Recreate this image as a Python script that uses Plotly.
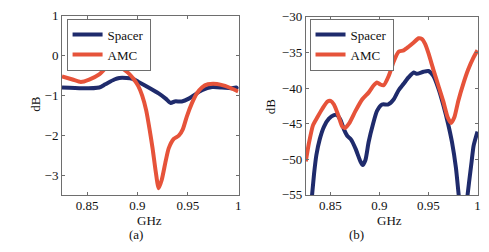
import plotly.graph_objects as go

# ---- data (a) ----
fa_spacer = [0.825, 0.845, 0.862, 0.868, 0.877, 0.882, 0.889, 0.895, 0.901, 0.911, 0.921, 0.928, 0.933,
             0.937, 0.944, 0.951, 0.957, 0.964, 0.974, 0.984, 0.993, 0.998, 1.0]
va_spacer = [-0.80, -0.82, -0.80, -0.72, -0.60, -0.56, -0.56, -0.58, -0.66, -0.80, -0.95, -1.08, -1.19,
             -1.15, -1.15, -1.08, -0.98, -0.87, -0.79, -0.80, -0.82, -0.80, -0.84]
fa_amc = [0.825, 0.8355, 0.8437, 0.852, 0.862, 0.868, 0.873, 0.880, 0.885, 0.891, 0.896, 0.9007, 0.9046,
          0.9086, 0.912, 0.915, 0.918, 0.921, 0.924, 0.928, 0.931, 0.936, 0.941, 0.945, 0.949, 0.954,
          0.959, 0.964, 0.970, 0.979, 0.987, 0.993, 1.0]
va_amc = [-0.52, -0.60, -0.66, -0.60, -0.47, -0.32, -0.22, -0.22, -0.32, -0.44, -0.58, -0.76, -1.0,
          -1.37, -1.85, -2.33, -2.89, -3.33, -3.13, -2.65, -2.33, -2.09, -2.01, -1.85, -1.53, -1.2,
          -0.95, -0.80, -0.72, -0.71, -0.76, -0.82, -0.90]

# ---- data (b) ----
fb_spacer = [0.828, 0.8334, 0.8358, 0.8392, 0.8436, 0.8486, 0.8537, 0.857, 0.8605, 0.8639, 0.8672, 0.871,
             0.8757, 0.8807, 0.883, 0.8858, 0.889, 0.8936, 0.8976, 0.9027, 0.909, 0.9145, 0.9196, 0.9247,
             0.9297, 0.935, 0.938, 0.945, 0.950, 0.955, 0.960, 0.965, 0.970, 0.974, 0.978, 0.982, 0.986,
             0.989, 0.994, 0.996, 1.0]
vb_spacer = [-60.0, -52.1, -49.4, -47.2, -45.4, -44.3, -43.8, -43.8, -44.5, -45.8, -46.7, -47.2,
             -48.5, -50.3, -50.8, -50.1, -47.6, -45.0, -43.2, -42.3, -42.3, -41.6, -40.3, -39.4,
             -38.5, -37.8, -38.0, -37.7, -37.6, -38.3, -40.0, -42.3, -45.0, -47.6, -51.2, -56.5, -60.0,
             -56.0, -50.3, -48.1, -46.1]
fb_amc = [0.825, 0.8284, 0.8324, 0.8368, 0.8419, 0.847, 0.8503, 0.8537, 0.8581, 0.8622, 0.8649, 0.869,
          0.8757, 0.8824, 0.8892, 0.8943, 0.8976, 0.901, 0.9044, 0.9095, 0.9145, 0.9196, 0.9247, 0.9297,
          0.935, 0.940, 0.9432, 0.9466, 0.950, 0.955, 0.960, 0.965, 0.9696, 0.973, 0.9764, 0.9804,
          0.9855, 0.9905, 0.9956, 1.0]
vb_amc = [-50.3, -47.6, -45.2, -44.1, -42.9, -41.9, -41.8, -42.3, -43.8, -45.4, -45.6, -45.0,
          -43.2, -41.6, -40.6, -39.6, -39.2, -39.5, -39.6, -38.3, -36.3, -34.9, -34.7, -34.2,
          -33.6, -33.0, -33.1, -33.8, -35.1, -37.4, -39.6, -41.8, -44.1, -44.9, -44.1, -41.8,
          -39.4, -37.4, -35.8, -34.7]

x_ticks = [0.85, 0.9, 0.95, 1.0]
x_ticktext = ["0.85", "0.9", "0.95", "1"]
ya_ticks = [-3, -2, -1, 0, 1]
ya_ticktext = ["\u22123", "\u22122", "\u22121", "0", "1"]
yb_ticks = [-55, -50, -45, -40, -35, -30]
yb_ticktext = ["\u221255", "\u221250", "\u221245", "\u221240", "\u221235", "\u221230"]

NAVY = "#1f2b6c"
RED = "#e6533a"
FONT = "Liberation Serif"
AX = "#6e6e6e"
TXT = "#111111"

fig = go.Figure()
fig.add_trace(go.Scatter(x=fa_spacer, y=va_spacer, name="Spacer", mode="lines",
                         line=dict(color=NAVY, width=4, shape="spline", smoothing=0.6),
                         xaxis="x", yaxis="y", legend="legend"))
fig.add_trace(go.Scatter(x=fa_amc, y=va_amc, name="AMC", mode="lines",
                         line=dict(color=RED, width=4, shape="spline", smoothing=0.6),
                         xaxis="x", yaxis="y", legend="legend"))
fig.add_trace(go.Scatter(x=fb_spacer, y=vb_spacer, name="Spacer", mode="lines",
                         line=dict(color=NAVY, width=4, shape="spline", smoothing=0.6),
                         xaxis="x2", yaxis="y2", legend="legend2"))
fig.add_trace(go.Scatter(x=fb_amc, y=vb_amc, name="AMC", mode="lines",
                         line=dict(color=RED, width=4, shape="spline", smoothing=0.6),
                         xaxis="x2", yaxis="y2", legend="legend2"))

axcommon = dict(showgrid=False, zeroline=False, showline=True, linecolor=AX, linewidth=1,
                mirror="ticks", ticks="inside", ticklen=3, tickcolor=AX,
                tickfont=dict(family=FONT, size=13, color=TXT))

fig.update_layout(
    width=489, height=252,
    margin=dict(l=62, r=9, t=8, b=57),
    paper_bgcolor="white", plot_bgcolor="white",
    xaxis=dict(domain=[0.0, 0.4246], range=[0.825, 1.0005], tickmode="array",
               tickvals=x_ticks, ticktext=x_ticktext, anchor="y", ticklabelstandoff=-2, **axcommon),
    yaxis=dict(domain=[0.0, 0.996], range=[-3.5, 1.002], tickmode="array",
               tickvals=ya_ticks, ticktext=ya_ticktext, anchor="x", **axcommon),
    xaxis2=dict(domain=[0.586, 1.0], range=[0.825, 1.0005], tickmode="array",
                tickvals=x_ticks, ticktext=x_ticktext, anchor="y2", ticklabelstandoff=-2, **axcommon),
    yaxis2=dict(domain=[0.0, 0.99], range=[-55.01, -29.99], tickmode="array",
                tickvals=yb_ticks, ticktext=yb_ticktext, anchor="x2", **axcommon),
    legend=dict(x=0.011, y=0.98, xanchor="left", yanchor="top", bgcolor="white",
                bordercolor=AX, borderwidth=1, font=dict(family=FONT, size=13, color=TXT),
                tracegroupgap=0, itemwidth=30),
    legend2=dict(x=0.595, y=0.98, xanchor="left", yanchor="top", bgcolor="white",
                 bordercolor=AX, borderwidth=1, font=dict(family=FONT, size=13, color=TXT),
                 tracegroupgap=0, itemwidth=30),
    showlegend=True,
)

ann_font = dict(family=FONT, size=13, color=TXT)
anns = [
    dict(text="GHz", x=0.2105, y=-0.14),
    dict(text="GHz", x=0.787, y=-0.14),
    dict(text="dB", x=-0.0646, y=0.508, textangle=-90),
    dict(text="dB", x=0.502, y=0.492, textangle=-90),
    dict(text="(a)", x=0.179, y=-0.222),
    dict(text="(b)", x=0.708, y=-0.222),
]
for a in anns:
    fig.add_annotation(xref="paper", yref="paper", showarrow=False, font=ann_font,
                       xanchor="center", yanchor="middle", **a)

fig.write_html("out.html")
